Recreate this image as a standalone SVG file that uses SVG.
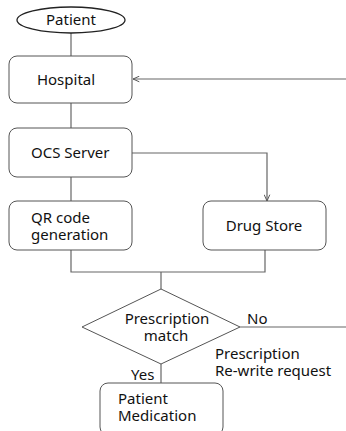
<svg xmlns="http://www.w3.org/2000/svg" width="346" height="431" viewBox="0 0 346 431">
<defs>
<style>
.box{fill:#fff;stroke:#555;stroke-width:1}
.ln{fill:none;stroke:#666;stroke-width:1.2}
text{font-family:"Noto Sans","Noto Sans CJK KR",sans-serif;font-size:15px;fill:#111}
</style>
<marker id="arr" viewBox="0 0 10 10" refX="10" refY="5" markerWidth="7" markerHeight="7" orient="auto" markerUnits="userSpaceOnUse">
<path d="M1,1 L10,5 L1,9" fill="none" stroke="#555" stroke-width="1.4"/>
</marker>
</defs>
<rect width="346" height="431" fill="#fff"/>
<g id="connectors">
<path class="ln" d="M71,33 V56"/>
<path class="ln" d="M346,79 H133" marker-end="url(#arr)"/>
<path class="ln" d="M71,103 V128"/>
<path class="ln" d="M71,177 V201"/>
<path class="ln" d="M132,153 H267 V201" marker-end="url(#arr)"/>
<path class="ln" d="M71,250 V272 H265 V250"/>
<path class="ln" d="M161,272 V289"/>
<path class="ln" d="M240,327 H346"/>
<path class="ln" d="M161,364 V383"/>
</g>
<g id="patient">
<ellipse cx="71" cy="20" rx="54" ry="13" fill="#fff" stroke="#222" stroke-width="1.3"/>
<text x="71" y="25" text-anchor="middle">Patient</text>
</g>
<g id="hospital">
<rect class="box" x="9" y="56" width="123" height="47" rx="8"/>
<text x="66" y="85" text-anchor="middle">Hospital</text>
</g>
<g id="ocs">
<rect class="box" x="9" y="128" width="123" height="49" rx="8"/>
<text x="31" y="158">OCS Server</text>
</g>
<g id="qr">
<rect class="box" x="9" y="201" width="123" height="49" rx="8"/>
<text x="31" y="223">QR code</text>
<text x="31" y="240">generation</text>
</g>
<g id="drugstore">
<rect class="box" x="203" y="201" width="123" height="49" rx="8"/>
<text x="264" y="231" text-anchor="middle">Drug Store</text>
</g>
<g id="decision">
<polygon class="box" points="161,289 240,327 161,364 82,327"/>
<text x="167" y="324" text-anchor="middle">Prescription</text>
<text x="166" y="341" text-anchor="middle">match</text>
<text x="247" y="324">No</text>
<text x="215" y="359">Prescription</text>
<text x="215" y="376">Re-write request</text>
<text x="131" y="380">Yes</text>
</g>
<g id="medication">
<rect class="box" x="100" y="383" width="123" height="52" rx="8"/>
<text x="118" y="404">Patient</text>
<text x="118" y="421">Medication</text>
</g>
</svg>
